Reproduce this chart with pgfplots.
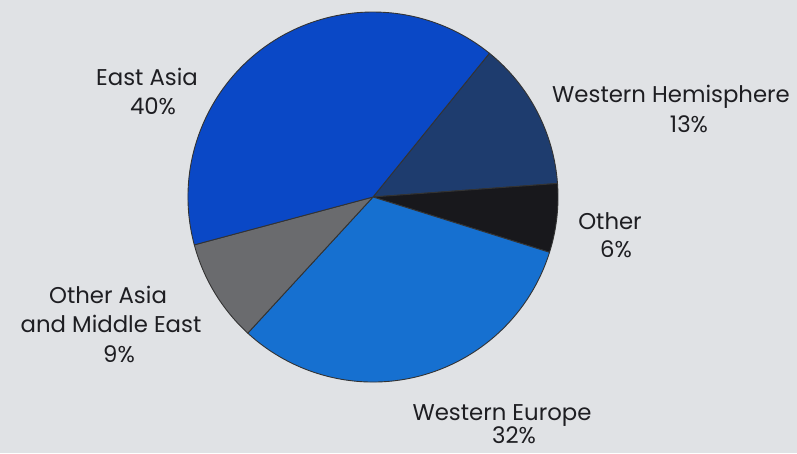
\documentclass[border=0pt]{standalone}
\usepackage{pgfplots}
\pgfplotsset{compat=1.18}
\usepackage{fontspec}
\setmainfont{Poppins}
\definecolor{bg}{HTML}{E0E2E5}
\definecolor{cEA}{HTML}{0A48C6}
\definecolor{cWH}{HTML}{1E3C6E}
\definecolor{cOT}{HTML}{18181C}
\definecolor{cWE}{HTML}{1670D0}
\definecolor{cOA}{HTML}{6A6B6E}
\definecolor{txt}{HTML}{1E1E22}
\def\curang{51}
\newcommand\slice[2]{%
  \pgfmathsetmacro\endang{\curang-3.6*#1}%
  \edef\tmp{\noexpand\filldraw[fill=#2,draw=black!80,line width=0.9pt,line join=round] (axis cs:373,256) -- ++(\curang:185pt) arc[start angle=\curang,end angle=\endang,radius=185pt] -- cycle;}\tmp
  \global\let\curang\endang}
\begin{document}
\begin{tikzpicture}
\begin{axis}[
  scale only axis, width=797pt, height=453pt,
  xmin=0, xmax=797, ymin=0, ymax=453,
  enlargelimits=false, hide axis, clip=false,
]
\fill[bg] (axis cs:0,0) rectangle (axis cs:797,453);
% values in percent, clockwise from 51 degrees
\slice{13}{cWH}
\slice{6}{cOT}
\slice{32}{cWE}
\slice{9}{cOA}
\slice{40}{cEA}
\begin{scope}[every node/.style={anchor=base, font=\fontsize{22.8}{27}\selectfont, text=txt, inner sep=0pt}]
\node at (axis cs:147,367) {East Asia};
\node at (axis cs:153,338) {40\%};
\node at (axis cs:671,350) {Western Hemisphere};
\node at (axis cs:689,320) {13\%};
\node at (axis cs:610,223) {Other};
\node at (axis cs:616,196) {6\%};
\node at (axis cs:108,150) {Other Asia};
\node at (axis cs:111,121) {and Middle East};
\node at (axis cs:119,91) {9\%};
\node at (axis cs:502,33) {Western Europe};
\node at (axis cs:514,10) {32\%};
\end{scope}
\end{axis}
\end{tikzpicture}
\end{document}
